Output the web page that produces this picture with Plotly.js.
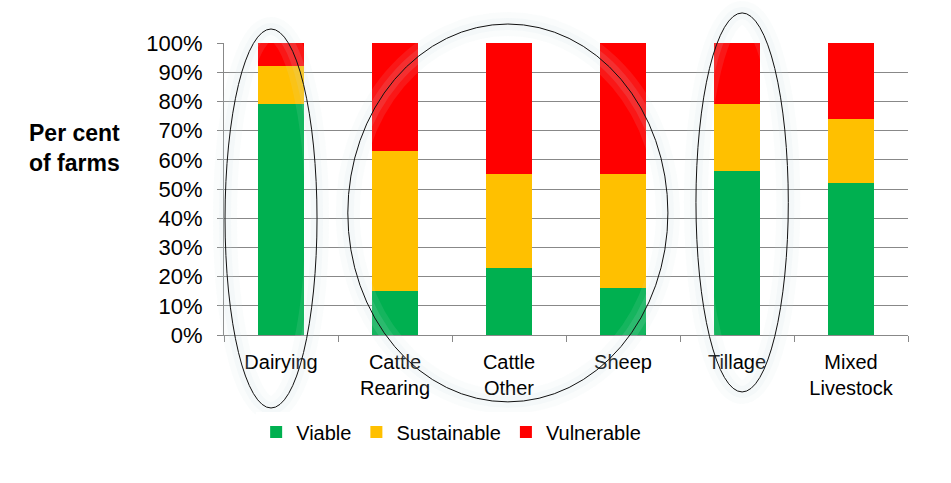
<!DOCTYPE html>
<html>
<head>
<meta charset="utf-8">
<script src="https://cdn.plot.ly/plotly-3.0.1.min.js"></script>
<style>html,body{margin:0;padding:0;background:#fff;}#chart{width:951px;height:483px;}</style>
</head>
<body>
<div id="chart"></div>
<script>
const categories = ["Dairying", "Cattle<br>Rearing", "Cattle<br>Other", "Sheep", "Tillage", "Mixed<br>Livestock"];
const viable = [79, 15, 23, 16, 56, 52];
const sustainable = [13, 48, 32, 39, 23, 22];
const vulnerable = [8, 37, 45, 45, 21, 26];
const yTicks = [0, 10, 20, 30, 40, 50, 60, 70, 80, 90, 100];

const regular = '"Liberation Sans", Arial, sans-serif';

const traces = [
  {name: "Viable", y: viable, color: "#00B050"},
  {name: "Sustainable", y: sustainable, color: "#FFC000"},
  {name: "Vulnerable", y: vulnerable, color: "#FF0000"}
].map(s => ({
  type: "bar", x: categories, y: s.y, name: s.name,
  marker: {color: s.color, line: {width: 0}}, hoverinfo: "skip"
}));

const ellipses = [
  [0.0015, 0.136, -0.25, 1.048],
  [0.181, 0.649, -0.229, 1.065],
  [0.690, 0.825, -0.195, 1.103]
];
const shapes = [];
ellipses.forEach(e => {
  [[24, 'rgba(205,222,230,0.10)'], [12, 'rgba(205,222,230,0.12)']].forEach(g => {
    shapes.push({type: 'circle', xref: 'paper', yref: 'paper', x0: e[0], x1: e[1], y0: e[2], y1: e[3],
      line: {color: g[1], width: g[0]}, layer: 'above'});
  });
  shapes.push({type: 'circle', xref: 'paper', yref: 'paper', x0: e[0], x1: e[1], y0: e[2], y1: e[3],
    line: {color: '#111', width: 1}, layer: 'above'});
});

const layout = {
  width: 951, height: 483,
  margin: {l: 224, r: 43, t: 43, b: 148},
  paper_bgcolor: "#fff", plot_bgcolor: "#fff",
  barmode: "stack", bargap: 0.6,
  showlegend: true,
  legend: {orientation: "h", x: 0.047, xanchor: "left", y: -0.332, yanchor: "middle",
    font: {family: regular, size: 20, color: "#000"}, traceorder: "normal", itemwidth: 30},
  xaxis: {type: "category", tickson: "boundaries", ticks: "outside", ticklen: 6, tickcolor: "#888",
    showline: true, linecolor: "#888", linewidth: 1, showgrid: false, ticklabelstandoff: 9,
    tickfont: {family: regular, size: 20, color: "#000"}, fixedrange: true},
  yaxis: {range: [0, 100], tickvals: yTicks, ticktext: yTicks.map(v => v + "%"),
    ticks: "outside", ticklen: 6, tickcolor: "#888", showline: true, linecolor: "#888",
    showgrid: true, gridcolor: "#888", gridwidth: 1, zeroline: false, ticklabelstandoff: 10,
    tickfont: {family: regular, size: 22, color: "#000"}, fixedrange: true},
  annotations: [{text: "<b>Per cent<br>of farms</b>", xref: "paper", yref: "paper",
    x: -0.218, y: 0.64, xanchor: "center", yanchor: "middle", showarrow: false, align: "left",
    font: {family: regular, size: 23, color: "#000"}}],
  shapes: shapes
};

Plotly.newPlot("chart", traces, layout, {displayModeBar: false, staticPlot: true});
</script>
</body>
</html>
